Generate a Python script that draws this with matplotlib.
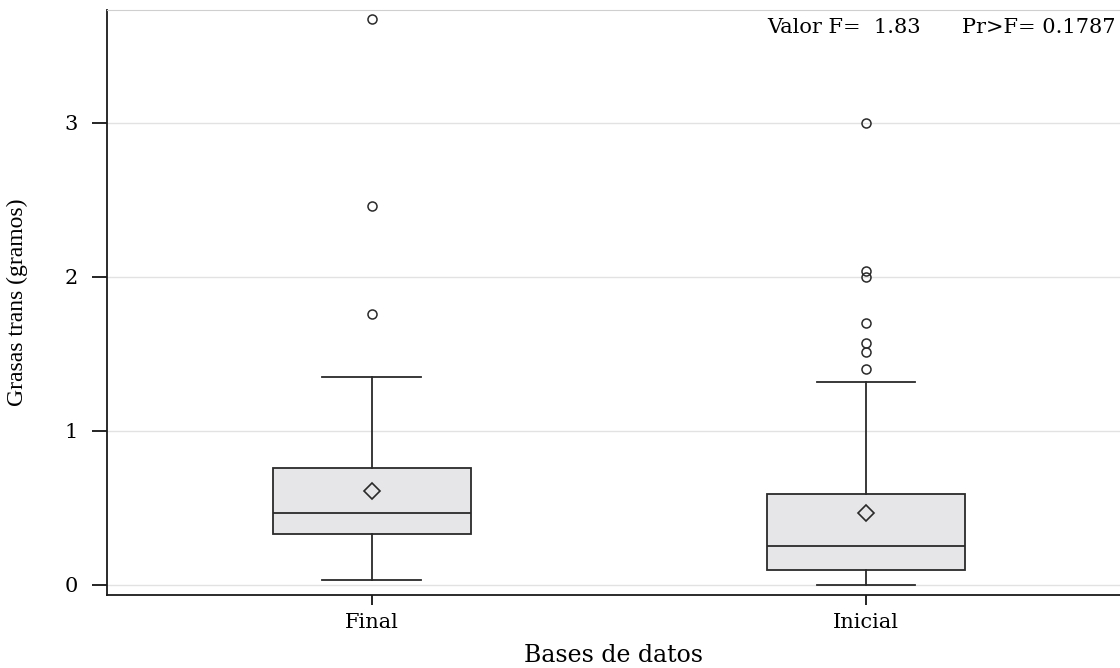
import matplotlib.pyplot as plt

plt.rcParams['font.family'] = ['DejaVu Serif']

groups = ['Final', 'Inicial']
whisker_low = [0.03, 0.00]
q1 = [0.33, 0.10]
median = [0.47, 0.25]
q3 = [0.76, 0.59]
whisker_high = [1.35, 1.32]
mean = [0.61, 0.47]
outliers = [
    [1.76, 2.46, 3.67],
    [1.40, 1.51, 1.57, 1.70, 2.00, 2.04, 3.00],
]

stats = []
for i, g in enumerate(groups):
    stats.append({'label': g, 'whislo': whisker_low[i], 'q1': q1[i], 'med': median[i],
                  'q3': q3[i], 'whishi': whisker_high[i], 'mean': mean[i], 'fliers': outliers[i]})

fig = plt.figure(figsize=(11.2, 6.68), dpi=100)
ax = fig.add_axes([107 / 1120, 73 / 668, 1 - 107 / 1120, 585 / 668])

ax.bxp(stats, positions=[1, 2], widths=0.40, patch_artist=True, showmeans=True,
       boxprops=dict(facecolor='#e6e5e8', edgecolor='#2a2a2a', linewidth=1.3),
       medianprops=dict(color='#2a2a2a', linewidth=1.3),
       whiskerprops=dict(color='#2a2a2a', linewidth=1.3),
       capprops=dict(color='#2a2a2a', linewidth=1.3),
       capwidths=0.20,
       meanprops=dict(marker='D', markerfacecolor='none', markeredgecolor='#2a2a2a',
                      markersize=8, markeredgewidth=1.2),
       flierprops=dict(marker='o', markerfacecolor='none', markeredgecolor='#2a2a2a',
                       markersize=6.5, markeredgewidth=1.1))

ax.set_xlim(0.464, 2.514)
ax.set_ylim(-0.065, 3.73)
ax.set_yticks([0, 1, 2, 3])
ax.set_yticklabels(['0', '1', '2', '3'])
ax.yaxis.grid(True, color='#e2e2e2', linewidth=1)
ax.set_axisbelow(True)

ax.spines['right'].set_visible(False)
ax.spines['top'].set_color('#cfcfcf')
for s in ['left', 'bottom']:
    ax.spines[s].set_color('#1a1a1a')
    ax.spines[s].set_linewidth(1.3)

ax.tick_params(axis='y', direction='out', length=11, width=1.2, labelsize=15, pad=10)
ax.tick_params(axis='x', direction='out', length=7, width=1.2, labelsize=15, pad=6)

ax.set_xlabel('Bases de datos', fontsize=17)
ax.xaxis.set_label_coords(0.5, -0.083)
ax.set_ylabel('Grasas trans (gramos)', fontsize=17, family='Liberation Serif')
ax.yaxis.set_label_coords(-0.078, 0.5)

fig.text(767 / 1120, 1 - 33 / 668, 'Valor F=  1.83', ha='left', va='baseline', fontsize=15)
fig.text(1115 / 1120, 1 - 33 / 668, 'Pr>F= 0.1787', ha='right', va='baseline', fontsize=15)

fig.savefig('out.png', dpi=100)
